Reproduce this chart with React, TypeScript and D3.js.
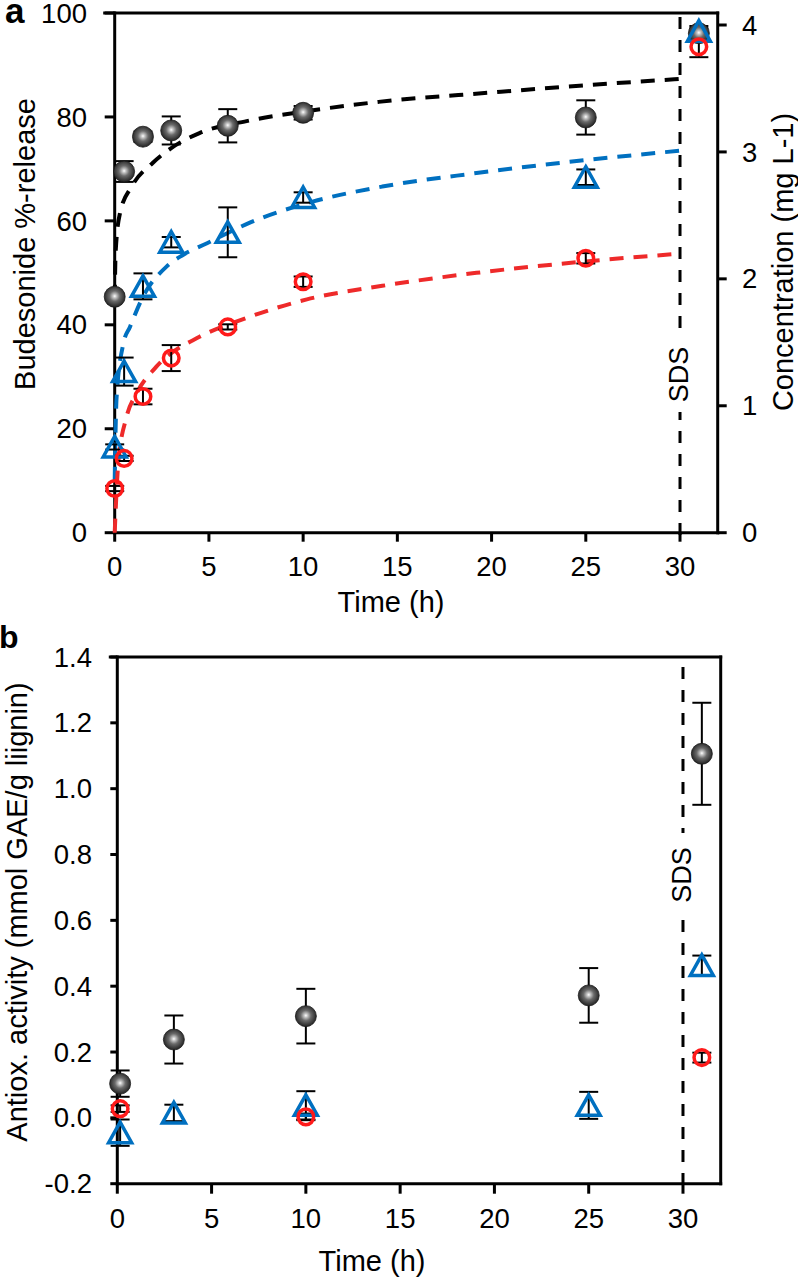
import React from 'react';
import * as d3 from 'd3';

// ---------- Panel a data ----------
const timesA = [0, 0.5, 1.5, 3, 6, 10, 25, 31];
const blackA = [45.4, 69.5, 76.2, 77.4, 78.3, 80.8, 79.9, 96.1];
const blackAErr = [0.5, 2.0, 1.0, 2.7, 3.2, 1.3, 3.3, 1.0];
const blueA = [16.5, 31.0, 47.4, 55.9, 57.8, 64.5, 68.4, 96.5];
const blueAErr = [0.5, 2.7, 2.5, 1.0, 4.8, 1.0, 1.5, 1.0];
const redA = [8.5, 14.3, 26.2, 33.6, 39.6, 48.3, 52.8, 93.5];
const redAErr = [0.5, 0.5, 1.5, 2.5, 0.5, 1.0, 1.0, 2.0];

// fitted release curves
const fitBlackT = [0, 0.05, 0.28, 0.9, 2.0, 3.0, 4.5, 7.0, 10.0, 14.0, 20.0, 25.0, 30.0];
const fitBlackV = [45, 54, 61.5, 66.6, 71.1, 74.0, 76.9, 79.2, 81.0, 82.9, 84.7, 86.1, 87.3];
const fitBlueT = [0, 0.02, 0.1, 0.46, 0.81, 1.5, 2.75, 3.6, 4.9, 7.2, 10.5, 14.2, 19.2, 25, 30];
const fitBlueV = [10, 14.6, 26, 36.4, 39.6, 45.4, 51.2, 53.4, 55.7, 59.7, 63.7, 66.6, 69.2, 71.7, 73.5];
const fitRedT = [0, 0.19, 0.63, 1.16, 2.2, 4.5, 6.45, 10.2, 14.2, 19.2, 25, 30];
const fitRedV = [0, 13.4, 22.3, 26.8, 31.9, 37.7, 40.6, 44.9, 47.5, 50.0, 52.2, 53.7];

const xTicks = [0, 5, 10, 15, 20, 25, 30];
const yTicksA = [0, 20, 40, 60, 80, 100];
const yTicksA2 = [0, 1, 2, 3, 4];

// ---------- Panel b data ----------
const timesB = [0.15, 3, 10, 25, 31];
const blackB = [0.104, 0.238, 0.309, 0.372, 1.106];
const blackBErr = [0.04, 0.073, 0.083, 0.083, 0.155];
const blueB = [-0.045, 0.015, 0.038, 0.038, 0.463];
const blueBErr = [0.04, 0.025, 0.043, 0.041, 0.03];
const redTimesB = [0.15, 10, 31];
const redB = [0.028, 0.003, 0.183];
const redBErr = [0.01, 0.01, 0.015];
const yTicksB = [-0.2, 0, 0.2, 0.4, 0.6, 0.8, 1.0, 1.2, 1.4];
const yTickLabelsB = ['-0.2', '0.0', '0.2', '0.4', '0.6', '0.8', '1.0', '1.2', '1.4'];

const BLUE = '#0070C0';
const RED = '#FF1A1A';
const FONT = '"Liberation Sans", Arial, Helvetica, sans-serif';
const TICK_FS = 27.5;
const TITLE_FS = 29;

const xA = d3.scaleLinear().domain([0, 32]).range([114.7, 717.7]);
const yA = d3.scaleLinear().domain([0, 100]).range([532.7, 13]);
const yA2 = d3.scaleLinear().domain([0, 4]).range([532.7, 25]);
const xB = d3.scaleLinear().domain([0, 32]).range([117.3, 720.7]);
const yB = d3.scaleLinear().domain([-0.2, 1.4]).range([1183.7, 657]);

const TRI = 'M0,-10.5 L11.5,10 L-11.5,10 Z';

function Sphere({ x, y }: { x: number; y: number }) {
  return <circle cx={x} cy={y} r={10.5} fill="url(#sphereGrad)" stroke="#1a1a1a" strokeWidth={0.8} />;
}
function Tri({ x, y }: { x: number; y: number }) {
  return <path d={TRI} transform={`translate(${x},${y})`} fill="none" stroke={BLUE} strokeWidth={3.5} />;
}
function Ring({ x, y }: { x: number; y: number }) {
  return <circle cx={x} cy={y} r={7.8} fill="none" stroke={RED} strokeWidth={3.5} />;
}
function ErrBar({ x, y1, y2 }: { x: number; y1: number; y2: number }) {
  return (
    <g stroke="#000" strokeWidth={2}>
      <line x1={x} x2={x} y1={y1} y2={y2} />
      <line x1={x - 9.5} x2={x + 9.5} y1={y1} y2={y1} />
      <line x1={x - 9.5} x2={x + 9.5} y1={y2} y2={y2} />
    </g>
  );
}

function fitPath(ts: number[], vs: number[], xs: any, ys: any) {
  const line = d3
    .line<number>()
    .x((_, i) => xs(ts[i]))
    .y((v) => ys(v))
    .curve(d3.curveMonotoneX);
  return line(vs) || '';
}

export default function App() {
  const xa = xA.range();
  const ya = yA.range();
  const xb = xB.range();
  const yb = yB.range();
  return (
    <svg
      width={798}
      height={1282}
      style={{ position: 'absolute', left: 0, top: 0, background: '#fff' }}
      fontFamily={FONT}
    >
      <defs>
        <radialGradient id="sphereGrad" cx="50%" cy="47%" r="55%">
          <stop offset="0%" stopColor="#ffffff" />
          <stop offset="15%" stopColor="#c8c8c8" />
          <stop offset="45%" stopColor="#6a6a6a" />
          <stop offset="80%" stopColor="#383838" />
          <stop offset="100%" stopColor="#1e1e1e" />
        </radialGradient>
      </defs>
      <rect x={0} y={0} width={798} height={1282} fill="#fff" />

      {/* ================= Panel a ================= */}
      <text x={5} y={23} fontSize={35} fontWeight="bold">a</text>
      {/* frame */}
      <g stroke="#000" strokeWidth={3} fill="none" strokeLinecap="square">
        <line x1={xa[0]} x2={xa[0]} y1={ya[0]} y2={ya[1]} />
        <line x1={xa[0]} x2={xa[1]} y1={ya[0]} y2={ya[0]} />
        <line x1={xa[1]} x2={xa[1]} y1={ya[0]} y2={ya[1]} />
        <line x1={xa[0] - 10} x2={xa[1]} y1={ya[1]} y2={ya[1]} />
      </g>
      {/* left ticks */}
      {yTicksA.map((t) => (
        <g key={'yla' + t}>
          <line x1={xa[0] - 10} x2={xa[0]} y1={yA(t)} y2={yA(t)} stroke="#000" strokeWidth={3} />
          <text x={87} y={yA(t)} dy="0.35em" textAnchor="end" fontSize={TICK_FS}>{t}</text>
        </g>
      ))}
      {/* right ticks */}
      {yTicksA2.map((t) => (
        <g key={'yra' + t}>
          <line x1={xa[1]} x2={xa[1] + 9} y1={yA2(t)} y2={yA2(t)} stroke="#000" strokeWidth={3} />
          <text x={742} y={yA2(t)} dy="0.35em" textAnchor="start" fontSize={TICK_FS}>{t}</text>
        </g>
      ))}
      {/* bottom ticks */}
      {xTicks.map((t) => (
        <g key={'xa' + t}>
          <line x1={xA(t)} x2={xA(t)} y1={ya[0]} y2={ya[0] + 9} stroke="#000" strokeWidth={3} />
          <text x={xA(t)} y={576} textAnchor="middle" fontSize={TICK_FS}>{t}</text>
        </g>
      ))}
      <text x={391} y={612} textAnchor="middle" fontSize={TITLE_FS}>Time (h)</text>
      <text transform={`translate(35,244) rotate(-90)`} textAnchor="middle" fontSize={TITLE_FS}>Budesonide %-release</text>
      <text transform={`translate(793,262) rotate(-90)`} textAnchor="middle" fontSize={TITLE_FS}>Concentration (mg L-1)</text>

      {/* SDS line */}
      <line x1={xA(30)} x2={xA(30)} y1={ya[1] + 4} y2={ya[0] + 9} stroke="#000" strokeWidth={3} strokeDasharray="12,11" />
      <rect x={xA(30) - 4} y={332} width={8} height={80} fill="#fff" />
      <text transform={`translate(688,374.5) rotate(-90)`} textAnchor="middle" fontSize={27}>SDS</text>

      {/* fits */}
      <g fill="none" strokeWidth={4} strokeDasharray="14,10">
        <path d={fitPath(fitBlackT, fitBlackV, xA, yA)} stroke="#000" />
        <path d={fitPath(fitBlueT, fitBlueV, xA, yA)} stroke={BLUE} />
        <path d={fitPath(fitRedT, fitRedV, xA, yA)} stroke="#EE2A2A" />
      </g>

      {/* error bars */}
      {timesA.map((t, i) => (
        <g key={'ea' + i}>
          <ErrBar x={xA(t)} y1={yA(blackA[i] + blackAErr[i])} y2={yA(blackA[i] - blackAErr[i])} />
          <ErrBar x={xA(t)} y1={yA(blueA[i] + blueAErr[i])} y2={yA(blueA[i] - blueAErr[i])} />
          <ErrBar x={xA(t)} y1={yA(redA[i] + redAErr[i])} y2={yA(redA[i] - redAErr[i])} />
        </g>
      ))}
      {/* markers */}
      {timesA.map((t, i) => (
        <Sphere key={'sa' + i} x={xA(t)} y={yA(blackA[i])} />
      ))}
      {timesA.map((t, i) => (
        <Tri key={'ta' + i} x={xA(t)} y={yA(blueA[i])} />
      ))}
      {timesA.map((t, i) => (
        <Ring key={'ra' + i} x={xA(t)} y={yA(redA[i])} />
      ))}

      {/* ================= Panel b ================= */}
      <text x={-1} y={648} fontSize={32} fontWeight="bold">b</text>
      <g stroke="#000" strokeWidth={3} fill="none" strokeLinecap="square">
        <line x1={xb[0]} x2={xb[0]} y1={yb[0]} y2={yb[1]} />
        <line x1={xb[0]} x2={xb[1]} y1={yb[0]} y2={yb[0]} />
        <line x1={xb[1]} x2={xb[1]} y1={yb[0]} y2={yb[1]} />
        <line x1={xb[0] - 7} x2={xb[1]} y1={yb[1]} y2={yb[1]} />
      </g>
      {yTicksB.map((t, i) => (
        <g key={'yb' + i}>
          <line x1={xb[0] - 7} x2={xb[0]} y1={yB(t)} y2={yB(t)} stroke="#000" strokeWidth={3} />
          <text x={92} y={yB(t)} dy="0.35em" textAnchor="end" fontSize={TICK_FS}>{yTickLabelsB[i]}</text>
        </g>
      ))}
      {xTicks.map((t) => (
        <g key={'xb' + t}>
          <line x1={xB(t)} x2={xB(t)} y1={yb[0]} y2={yb[0] + 10} stroke="#000" strokeWidth={3} />
          <text x={xB(t)} y={1228} textAnchor="middle" fontSize={TICK_FS}>{t}</text>
        </g>
      ))}
      <text x={372} y={1271} textAnchor="middle" fontSize={TITLE_FS}>Time (h)</text>
      <text transform={`translate(27,912) rotate(-90)`} textAnchor="middle" fontSize={TITLE_FS}>Antiox. activity (mmol GAE/g liignin)</text>

      <line x1={xB(30)} x2={xB(30)} y1={yb[1] + 10} y2={yb[0] + 10} stroke="#000" strokeWidth={3} strokeDasharray="12,11" />
      <rect x={xB(30) - 4} y={833} width={8} height={80} fill="#fff" />
      <text transform={`translate(691,875) rotate(-90)`} textAnchor="middle" fontSize={27}>SDS</text>

      {timesB.map((t, i) => (
        <g key={'eb' + i}>
          <ErrBar x={xB(t)} y1={yB(blackB[i] + blackBErr[i])} y2={yB(blackB[i] - blackBErr[i])} />
          <ErrBar x={xB(t)} y1={yB(blueB[i] + blueBErr[i])} y2={yB(blueB[i] - blueBErr[i])} />
        </g>
      ))}
      {redTimesB.map((t, i) => (
        <ErrBar key={'erb' + i} x={xB(t)} y1={yB(redB[i] + redBErr[i])} y2={yB(redB[i] - redBErr[i])} />
      ))}
      {timesB.map((t, i) => (
        <Sphere key={'sb' + i} x={xB(t)} y={yB(blackB[i])} />
      ))}
      {timesB.map((t, i) => (
        <Tri key={'tb' + i} x={xB(t)} y={yB(blueB[i])} />
      ))}
      {redTimesB.map((t, i) => (
        <Ring key={'rb' + i} x={xB(t)} y={yB(redB[i])} />
      ))}
    </svg>
  );
}
